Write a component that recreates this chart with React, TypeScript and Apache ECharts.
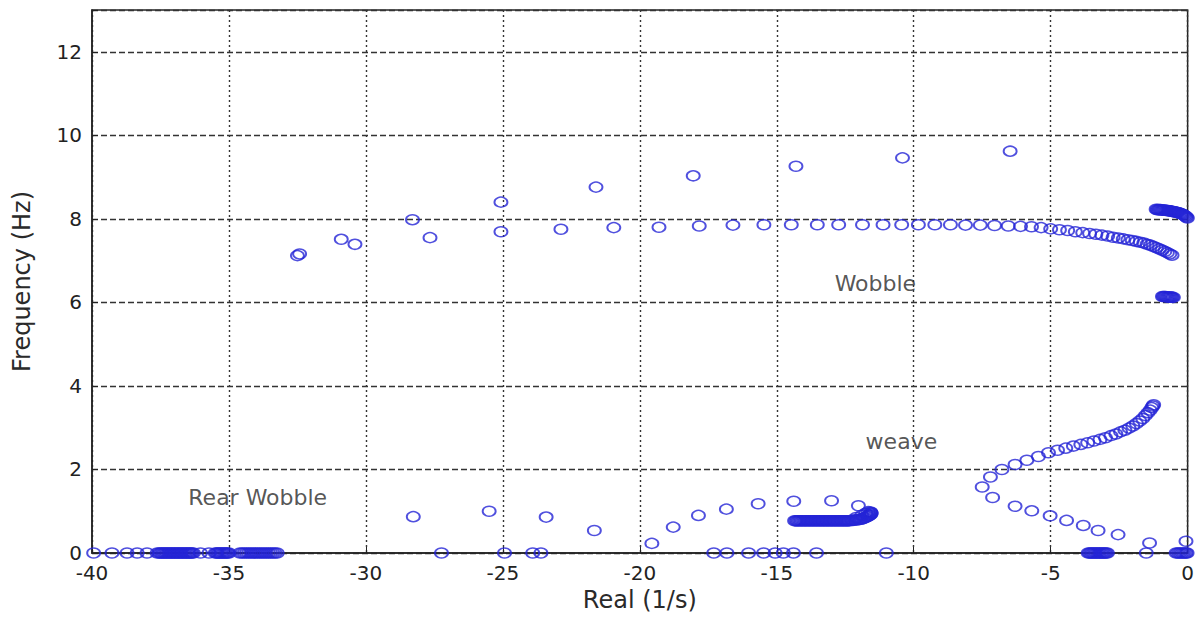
import React, { useEffect, useRef } from "react";
import * as echarts from "echarts";

// Real part (1/s) of eigenvalues with zero imaginary part
const axisRearX = [
  -39.94, -39.27, -38.72, -38.35, -37.99, -37.62, -37.55, -37.5, -37.45, -37.4,
  -37.35, -37.3, -37.25, -37.2, -37.15, -37.1, -37.05, -37.0, -36.95, -36.9,
  -36.85, -36.8, -36.75, -36.7, -36.65, -36.6, -36.55, -36.5, -36.45, -36.4,
  -36.35, -36.3, -36.04, -35.73, -35.5, -35.45, -35.4, -35.35, -35.3, -35.25,
  -35.2, -35.15, -35.1, -35.05, -35.0, -34.6, -34.52, -34.44, -34.36, -34.28,
  -34.2, -34.12, -34.04, -33.96, -33.88, -33.8, -33.72, -33.64, -33.56, -33.48,
  -33.4, -33.32, -33.24,
];
const axisOtherX = [
  -27.24, -24.94, -23.91, -23.61, -17.3, -16.82, -16.03, -15.48, -15.06, -14.76,
  -14.39, -13.55, -11.0, -3.63, -3.58, -3.53, -3.48, -3.43, -3.38, -3.33, -3.28,
  -3.23, -3.18, -3.13, -3.08, -3.03, -2.98, -2.93, -1.51, -0.42, -0.36, -0.3,
  -0.24, -0.18, -0.12, -0.06, -0.02,
];

// Wobble mode branch [real, freq]
const wobblePts = [
  [-32.5, 7.12], [-32.42, 7.16], [-30.9, 7.51], [-30.4, 7.39], [-28.3, 7.98],
  [-27.66, 7.55], [-25.07, 8.4], [-25.07, 7.69], [-22.88, 7.75], [-21.6, 8.76],
  [-20.95, 7.79], [-19.3, 7.8], [-18.05, 9.03], [-17.83, 7.83], [-16.6, 7.85],
  [-15.47, 7.86], [-14.3, 9.26], [-14.47, 7.86], [-13.52, 7.86], [-12.74, 7.86],
  [-11.87, 7.86], [-11.12, 7.86], [-10.44, 7.86], [-10.41, 9.46], [-9.83, 7.86],
  [-9.23, 7.86], [-8.66, 7.86], [-8.11, 7.85], [-7.57, 7.85], [-7.05, 7.84],
  [-6.48, 9.62], [-6.55, 7.83], [-6.1, 7.82], [-5.7, 7.81], [-5.35, 7.79],
  [-5.0, 7.76], [-4.68, 7.74], [-4.38, 7.72], [-4.1, 7.69], [-3.83, 7.67],
  [-3.58, 7.65], [-3.35, 7.63], [-3.13, 7.61], [-2.92, 7.59], [-2.72, 7.56],
  [-2.53, 7.54], [-2.35, 7.52], [-2.18, 7.5], [-2.02, 7.48], [-1.87, 7.46],
  [-1.73, 7.44], [-1.6, 7.42], [-1.48, 7.39], [-1.36, 7.37], [-1.25, 7.34],
  [-1.14, 7.31], [-1.03, 7.28], [-0.93, 7.25], [-0.83, 7.22], [-0.74, 7.19],
  [-0.65, 7.16], [-0.57, 7.13],
];
const wobbleHighPts = [
  [-1.15, 8.23], [-1.11, 8.22], [-1.07, 8.22], [-1.03, 8.22], [-0.99, 8.22],
  [-0.95, 8.21], [-0.91, 8.21], [-0.87, 8.21], [-0.83, 8.21], [-0.79, 8.2],
  [-0.75, 8.2], [-0.71, 8.2], [-0.67, 8.19], [-0.63, 8.19], [-0.59, 8.18],
  [-0.55, 8.18], [-0.51, 8.17], [-0.47, 8.17], [-0.43, 8.16], [-0.39, 8.15],
  [-0.35, 8.15], [-0.31, 8.14], [-0.27, 8.13], [-0.23, 8.12], [-0.19, 8.11],
  [-0.15, 8.1], [-0.11, 8.08], [-0.07, 8.06], [-0.04, 8.04], [-0.01, 8.02],
];
const wobbleLowPts = [
  [-0.92, 6.14], [-0.88, 6.14], [-0.84, 6.14], [-0.8, 6.14], [-0.76, 6.13],
  [-0.72, 6.13], [-0.68, 6.13], [-0.64, 6.13], [-0.6, 6.13], [-0.56, 6.12], [-0.52, 6.12],
];

// Weave mode branches
const weaveUpperPts = [
  [-7.5, 1.58], [-7.2, 1.82], [-6.78, 2.0], [-6.3, 2.12], [-5.87, 2.22],
  [-5.45, 2.31], [-5.08, 2.4], [-4.75, 2.46], [-4.45, 2.51], [-4.17, 2.56],
  [-3.9, 2.6], [-3.65, 2.64], [-3.42, 2.68], [-3.2, 2.72], [-3.0, 2.76],
  [-2.8, 2.81], [-2.62, 2.85], [-2.45, 2.9], [-2.29, 2.94], [-2.14, 2.99],
  [-2.0, 3.04], [-1.87, 3.1], [-1.75, 3.16], [-1.64, 3.22], [-1.54, 3.29],
  [-1.45, 3.36], [-1.37, 3.42], [-1.31, 3.48], [-1.27, 3.52], [-1.24, 3.55],
];
const weaveLowerPts = [
  [-7.12, 1.33], [-6.3, 1.12], [-5.69, 1.01], [-5.02, 0.89], [-4.42, 0.78],
  [-3.81, 0.66], [-3.27, 0.54], [-2.54, 0.44], [-1.39, 0.24], [-0.06, 0.28],
];

// Rear wobble ~1 Hz points
const rearPts = [
  [-28.27, 0.87], [-25.5, 1.0], [-23.42, 0.86], [-21.66, 0.54], [-19.56, 0.23],
  [-18.78, 0.62], [-17.86, 0.9], [-16.84, 1.05], [-15.68, 1.18], [-14.38, 1.24],
  [-13.0, 1.25], [-12.02, 1.13],
];
const rearClusterPts = [
  [-14.35, 0.77], [-14.3, 0.77], [-14.25, 0.77], [-14.2, 0.77], [-14.15, 0.77],
  [-14.1, 0.77], [-14.05, 0.77], [-14.0, 0.77], [-13.95, 0.77], [-13.9, 0.77],
  [-13.85, 0.77], [-13.8, 0.77], [-13.75, 0.77], [-13.7, 0.77], [-13.65, 0.77],
  [-13.6, 0.77], [-13.55, 0.77], [-13.5, 0.77], [-13.45, 0.77], [-13.4, 0.77],
  [-13.35, 0.77], [-13.3, 0.77], [-13.25, 0.77], [-13.2, 0.77], [-13.15, 0.77],
  [-13.1, 0.77], [-13.05, 0.77], [-13.0, 0.77], [-12.95, 0.77], [-12.9, 0.77],
  [-12.85, 0.77], [-12.8, 0.77], [-12.75, 0.77], [-12.7, 0.77], [-12.65, 0.77],
  [-12.6, 0.77], [-12.55, 0.77], [-12.5, 0.77], [-12.45, 0.77], [-12.4, 0.77],
  [-12.35, 0.77], [-12.28, 0.78], [-12.22, 0.78], [-12.16, 0.79], [-12.1, 0.79],
  [-12.04, 0.8], [-11.98, 0.8], [-11.92, 0.81], [-11.86, 0.82], [-11.81, 0.84],
  [-11.76, 0.85], [-11.71, 0.87], [-11.67, 0.88], [-11.63, 0.9], [-11.6, 0.91],
  [-11.57, 0.93], [-11.55, 0.95], [-11.56, 0.97], [-11.58, 0.98], [-11.66, 0.99],
  [-12.1, 0.85], [-11.9, 0.9], [-11.75, 0.95],
];

const xTicks = { min: -40, max: 0, interval: 5 };
const yTicks = { min: 0, max: 13, interval: 2 };

const annotations = [
  { text: "Wobble", x: -11.4, y: 6.46 },
  { text: "weave", x: -10.45, y: 2.68 },
  { text: "Rear Wobble", x: -33.95, y: 1.32 },
];

const BLUE = "#2424d6";
const FONT = "DejaVu Sans";

export default function App() {
  const ref = useRef<HTMLDivElement>(null);
  useEffect(() => {
    if (!ref.current) return;
    const chart = echarts.init(ref.current, undefined, { renderer: "svg" });
    const marker = {
      type: "scatter",
      symbol: "circle",
      symbolSize: [13, 10],
      itemStyle: { color: "rgba(0,0,0,0)", borderColor: BLUE, borderWidth: 1.7 },
      emphasis: { disabled: true },
    };
    const series: any[] = [
      { ...marker, name: "rearAxis", data: axisRearX.map((x) => [x, 0]) },
      { ...marker, name: "otherAxis", data: axisOtherX.map((x) => [x, 0]) },
      { ...marker, name: "wobble", data: wobblePts },
      { ...marker, name: "wobbleHigh", data: wobbleHighPts },
      { ...marker, name: "wobbleLow", data: wobbleLowPts },
      { ...marker, name: "weaveUpper", data: weaveUpperPts },
      { ...marker, name: "weaveLower", data: weaveLowerPts },
      { ...marker, name: "rear", data: rearPts },
      { ...marker, name: "rearCluster", data: rearClusterPts },
      {
        type: "scatter",
        name: "labels",
        symbolSize: 0,
        silent: true,
        data: annotations.map((a) => ({ value: [a.x, a.y], name: a.text })),
        label: {
          show: true,
          position: "inside",
          formatter: (p: any) => p.name,
          fontFamily: FONT,
          fontSize: 22,
          color: "#2a2a2a",
        },
      },
    ];
    chart.setOption({
      animation: false,
      backgroundColor: "#fff",
      grid: {
        left: 92,
        right: 9,
        top: 10,
        bottom: 67,
        show: true,
        borderColor: "#222",
        borderWidth: 1.5,
        backgroundColor: "#fff",
      },
      xAxis: {
        type: "value",
        min: xTicks.min,
        max: xTicks.max,
        interval: xTicks.interval,
        name: "Real (1/s)",
        nameLocation: "middle",
        nameGap: 33,
        nameTextStyle: { fontFamily: FONT, fontSize: 24, color: "#2a2a2a" },
        axisLine: { show: true, onZero: false, lineStyle: { color: "#222", width: 1.5 } },
        axisTick: { show: true, inside: true, length: 6, lineStyle: { color: "#222" } },
        axisLabel: { fontFamily: FONT, fontSize: 20, lineHeight: 16, color: "#222", margin: 12 },
        splitLine: { show: true, lineStyle: { color: "#333", type: [2, 3], width: 1.4 } },
      },
      yAxis: {
        type: "value",
        min: yTicks.min,
        max: yTicks.max,
        interval: yTicks.interval,
        name: "Frequency (Hz)",
        nameLocation: "middle",
        nameGap: 58,
        nameTextStyle: { fontFamily: FONT, fontSize: 24, color: "#2a2a2a" },
        axisLine: { show: true, onZero: false, lineStyle: { color: "#222", width: 1.5 } },
        axisTick: { show: true, inside: true, length: 6, lineStyle: { color: "#222" } },
        axisLabel: {
          fontFamily: FONT,
          fontSize: 20,
          lineHeight: 16,
          color: "#222",
          margin: 10,
          formatter: (v: number) => (v % 2 === 0 ? String(v) : ""),
        },
        splitLine: { show: true, lineStyle: { color: "#333", type: [6, 3], width: 1.4 } },
      },
      series,
    });
    return () => chart.dispose();
  }, []);
  return (
    <div
      ref={ref}
      style={{ position: "fixed", left: 0, top: 0, width: 1197, height: 620, background: "#fff" }}
    />
  );
}
